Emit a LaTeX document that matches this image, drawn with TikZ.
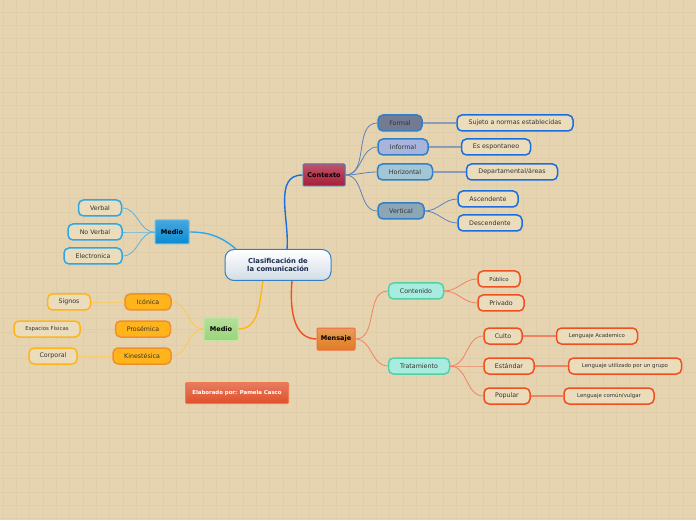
\documentclass[tikz,border=0pt]{standalone}
\usepackage{fontspec}
\setmainfont{DejaVu Sans}
\usepackage{tikz}
\usetikzlibrary{positioning}
\definecolor{bgtan}{HTML}{E6D4B0}
\definecolor{gridtan}{HTML}{E0CEAA}
\definecolor{leaffill}{HTML}{EBDCBC}
\definecolor{inkgray}{HTML}{333333}
\definecolor{rootblue}{HTML}{3080C8}
\definecolor{rootink}{HTML}{1A2A50}
\definecolor{rootshade}{HTML}{D2DCE6}
\definecolor{ctxred}{HTML}{A81C38}
\definecolor{ctxblue}{HTML}{1A6EE0}
\definecolor{ctxline}{HTML}{5A84C0}
\definecolor{ctxgray}{HTML}{8C9CB8}
\definecolor{formalfill}{HTML}{727A94}
\definecolor{informalfill}{HTML}{A8B4DC}
\definecolor{horizfill}{HTML}{A2C6D6}
\definecolor{vertfill}{HTML}{8CA6B6}
\definecolor{skyblue}{HTML}{2AA8E8}
\definecolor{skyfill}{HTML}{0A8AD2}
\definecolor{skyline}{HTML}{5AB4E0}
\definecolor{leafgreen}{HTML}{9CD47A}
\definecolor{leafgreenrim}{HTML}{BCE8A4}
\definecolor{ambar}{HTML}{FFB41C}
\definecolor{ambarrim}{HTML}{F0902A}
\definecolor{ambarline}{HTML}{FFC850}
\definecolor{coral}{HTML}{F05020}
\definecolor{coralline}{HTML}{F08462}
\definecolor{msgfill}{HTML}{E07C22}
\definecolor{mintfill}{HTML}{A8ECE0}
\definecolor{mintrim}{HTML}{52D0A8}
\definecolor{autorfill}{HTML}{E0502A}
\definecolor{autorrim}{HTML}{F07A52}
\tikzset{
  root/.style={rectangle, rounded corners=9pt, draw=rootblue, line width=1pt,
               top color=white, bottom color=rootshade, text=rootink,
               font=\fontsize{6.8}{7.6}\selectfont\bfseries, align=center,
               minimum width=106, minimum height=31, inner sep=1pt},
  main/.style 2 args={rectangle, rounded corners=1pt, draw=#1, line width=1pt,
               top color=#2!75!white, bottom color=#2, text=black,
               font=\fontsize{6.5}{7.5}\selectfont\bfseries,
               minimum height=22, inner sep=2pt},
  sub/.style 2 args={rectangle, rounded corners=5pt, draw=#1, line width=1.5pt,
               fill=#2, text=inkgray, font=\fontsize{6.3}{7.3}\selectfont,
               minimum height=16, inner sep=2pt},
  leaf/.style={sub={#1}{leaffill}},
  tiny/.style={font=\fontsize{5.4}{6.2}\selectfont},
  link/.style={draw=#1, line width=0.8pt},
  trunk/.style={draw=#1, line width=1.4pt},
}
\begin{document}
\begin{tikzpicture}[x=1pt, y=1pt]
  %% Background
  \useasboundingbox (0,0) rectangle (696,520);
  \fill[bgtan] (0,0) rectangle (696,520);
  \foreach \i in {0,...,51}
    \draw[gridtan, line width=0.5pt] ({3+13.333*\i},0) -- ++(0,520);
  \foreach \i in {0,...,38}
    \draw[gridtan, line width=0.5pt] (0,{508-13.333*\i}) -- ++(696,0);
  %% Centre
  \node[root] (cls) at (278,255) {Clasificación de\\la comunicación};
  %% Contexto
  \node[main={rootblue}{ctxred}, minimum width=42] (ctx) at (324,345) {Contexto};
  \node[sub={rootblue}{formalfill}, minimum width=44] (formal) at (400,397) {Formal};
  \node[sub={rootblue}{informalfill}, minimum width=50] (informal) at (403,373) {Informal};
  \node[sub={rootblue}{horizfill}, minimum width=55] (horiz) at (405,348) {Horizontal};
  \node[sub={rootblue}{vertfill}, minimum width=46] (vert) at (401,309) {Vertical};
  \node[leaf=ctxblue, minimum width=116] (normas) at (515,397) {Sujeto a normas establecidas};
  \node[leaf=ctxblue, minimum width=69] (espont) at (496,373) {Es espontaneo};
  \node[leaf=ctxblue, minimum width=91] (depto) at (512,348) {Departamental/áreas};
  \node[leaf=ctxblue, minimum width=60] (asc) at (488,321) {Ascendente};
  \node[leaf=ctxblue, minimum width=64] (desc) at (490,297) {Descendente};
  \foreach \a/\b in {ctx/formal,ctx/informal,ctx/horiz,ctx/vert,vert/asc,vert/desc}
    \draw[link=ctxline] (\a.east) to[out=0,in=180] (\b.west);
  \foreach \a/\b in {formal/normas,informal/espont,horiz/depto}
    \draw[link=ctxgray, line width=1.2pt] (\a.east) -- (\b.west);
  \draw[trunk=ctxblue] ([xshift=9pt]cls.north) to[out=85,in=180] (ctx.west);
  %% Medio (canal)
  \node[main={skyblue!70!white}{skyfill}, minimum width=34, minimum height=24] (canal) at (172,288) {Medio};
  \node[leaf=skyblue, minimum width=43] (verbal) at (100,312) {Verbal};
  \node[leaf=skyblue, minimum width=54] (noverbal) at (95,288) {No Verbal};
  \node[leaf=skyblue, minimum width=58] (electro) at (93,264) {Electronica};
  \foreach \b in {verbal,noverbal,electro}
    \draw[link=skyline] (canal.west) to[out=180,in=0] (\b.east);
  \draw[trunk=skyblue] ([xshift=-42pt]cls.north) to[out=140,in=0] (canal.east);
  %% Medio (no verbal)
  \node[main={leafgreenrim}{leafgreen}, minimum width=34, minimum height=23] (espacio) at (221,191) {Medio};
  \node[sub={ambarrim}{ambar}, minimum width=46] (iconica) at (148,218) {Icónica};
  \node[sub={ambarrim}{ambar}, minimum width=55] (prosem) at (143,191) {Prosémica};
  \node[sub={ambarrim}{ambar}, minimum width=58] (kines) at (142,164) {Kinestésica};
  \node[leaf=ambar, minimum width=43] (signos) at (69,218) {Signos};
  \node[leaf=ambar, tiny, minimum width=66] (espfis) at (47,191) {Espacios Físicas};
  \node[leaf=ambar, minimum width=48] (corporal) at (53,164) {Corporal};
  \foreach \a/\b in {espacio/iconica,espacio/prosem,espacio/kines,iconica/signos,prosem/espfis,kines/corporal}
    \draw[link=ambarline] (\a.west) to[out=180,in=0] (\b.east);
  \draw[trunk=ambar] ([xshift=-15pt]cls.south) to[out=-100,in=0] (espacio.east);
  %% Mensaje
  \node[main={coral!85!white}{msgfill}, minimum width=38] (msg) at (336,181) {Mensaje};
  \node[sub={mintrim}{mintfill}, minimum width=55] (conten) at (416,229) {Contenido};
  \node[sub={mintrim}{mintfill}, minimum width=61] (trato) at (419,154) {Tratamiento};
  \node[leaf=coral, tiny, minimum width=42] (publico) at (499,241) {Público};
  \node[leaf=coral, minimum width=46] (privado) at (501,217) {Privado};
  \node[leaf=coral, minimum width=38] (culto) at (503,184) {Culto};
  \node[leaf=coral, minimum width=50] (estandar) at (509,154) {Estándar};
  \node[leaf=coral, minimum width=46] (popular) at (507,124) {Popular};
  \node[leaf=coral, tiny, minimum width=81] (academ) at (597,184) {Lenguaje Academico};
  \node[leaf=coral, tiny, minimum width=113] (grupo) at (625,154) {Lenguaje utilizado por un grupo};
  \node[leaf=coral, tiny, minimum width=90] (vulgar) at (609,124) {Lenguaje común/vulgar};
  \foreach \a/\b in {msg/conten,msg/trato,conten/publico,conten/privado,trato/culto,trato/estandar,trato/popular}
    \draw[link=coralline] (\a.east) to[out=0,in=180] (\b.west);
  \foreach \a/\b in {culto/academ,estandar/grupo,popular/vulgar}
    \draw[link=coralline, line width=1.2pt] (\a.east) -- (\b.west);
  \draw[trunk=coral] ([xshift=14pt]cls.south) to[out=-95,in=180] (msg.west);
  %% Autor
  \node[main={autorrim}{autorfill}, text=white, minimum width=103, minimum height=21,
        font=\fontsize{5.4}{6.2}\selectfont\bfseries] (autor) at (237,127) {Elaborado por: Pamela Casco};
\end{tikzpicture}
\end{document}
